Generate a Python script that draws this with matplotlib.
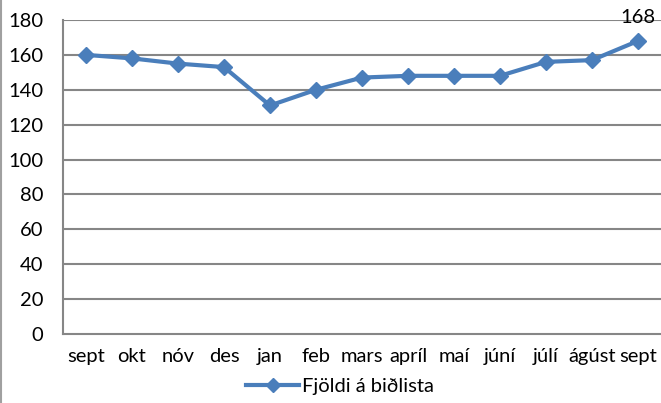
import matplotlib
matplotlib.use("Agg")
import matplotlib.pyplot as plt
from matplotlib.lines import Line2D

months = ["sept", "okt", "nóv", "des", "jan", "feb", "mars", "apríl", "maí", "júní", "júlí", "ágúst", "sept"]
values = [160, 158, 155, 153, 131, 140, 147, 148, 148, 148, 156, 157, 168]
yticks = [0, 20, 40, 60, 80, 100, 120, 140, 160, 180]
series_name = "Fjöldi á biðlista"

plt.rcParams['font.family'] = ['Lato', 'DejaVu Sans']
color = "#4a7ebb"
grid = "#868686"
fs = 14.5

fig = plt.figure(figsize=(6.61, 4.03), dpi=100)
ax = fig.add_axes([63/661, 1-334/403, (661-63)/661, (334-20)/403])
x = list(range(len(months)))
ax.plot(x, values, color=color, lw=3, marker="D", ms=8.5, mec=color, mfc=color, zorder=3, clip_on=False)
ax.set_xlim(-0.5, len(months)-0.5)
ax.set_ylim(0, 180)
ax.set_yticks(yticks)
ax.set_yticklabels([str(t) for t in yticks], fontsize=fs)
ax.set_xticks(x)
ax.set_xticklabels(months, fontsize=fs)
ax.tick_params(length=0)
ax.tick_params(axis='y', pad=14)
ax.tick_params(axis='x', pad=10)
for t in yticks[1:]:
    ax.axhline(t, color=grid, lw=1.5, zorder=1)
for s in ["top", "right"]:
    ax.spines[s].set_visible(False)
for s in ["left", "bottom"]:
    ax.spines[s].set_color(grid)
    ax.spines[s].set_linewidth(1.5)
ax.annotate(str(values[-1]), (x[-1], values[-1]), xytext=(0, 11), textcoords="offset points",
            ha="center", va="bottom", fontsize=fs)

h = Line2D([], [], color=color, lw=3, marker="D", ms=7, mec=color, mfc=color)
fig.legend([h], [series_name], loc="center", bbox_to_anchor=(340/661, 1-386/403), frameon=False,
           fontsize=fs, handlelength=2.6, handletextpad=0.15)

fig.add_artist(Line2D([0.5/661, 0.5/661], [0, 1], color="#a0a0a0", lw=1.5, transform=fig.transFigure))
fig.savefig("out.png", dpi=100)
